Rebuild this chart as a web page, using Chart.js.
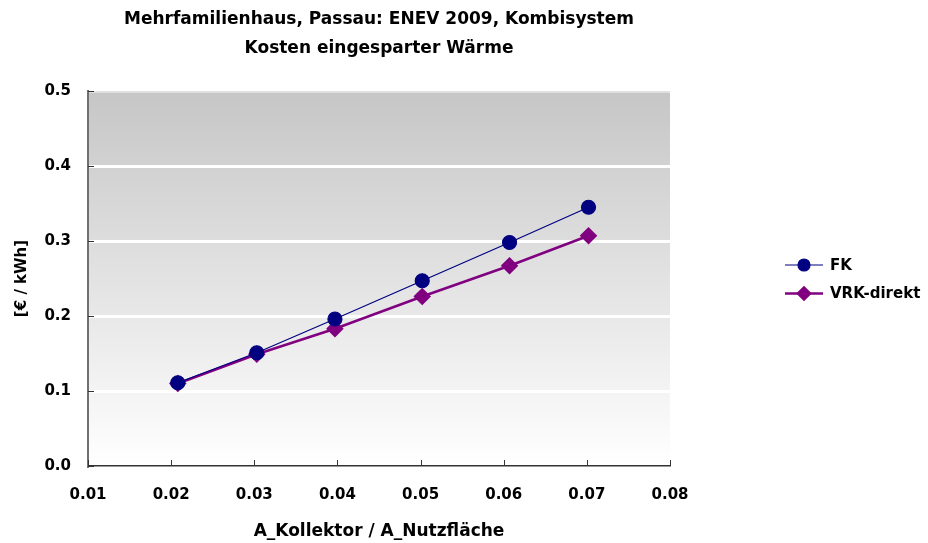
<!DOCTYPE html>
<html>
<head>
<meta charset="utf-8">
<script src="https://cdn.jsdelivr.net/npm/chart.js@4"></script>
<style>
  body { margin: 0; background: #fff; }
</style>
</head>
<body>
<canvas id="myChart" width="928" height="543"></canvas>
<script>
const titleLines = ["Mehrfamilienhaus, Passau: ENEV 2009, Kombisystem", "Kosten eingesparter Wärme"];
const xTitle = "A_Kollektor / A_Nutzfläche";
const yTitle = "[€ / kWh]";

const ratioValues = [0.0208, 0.0303, 0.0397, 0.0502, 0.0607, 0.0702];
const fkValues = [0.111, 0.151, 0.196, 0.247, 0.298, 0.345];
const vrkValues = [0.110, 0.149, 0.183, 0.226, 0.267, 0.307];

const xTicks = [0.01, 0.02, 0.03, 0.04, 0.05, 0.06, 0.07, 0.08];
const yTicks = [0.0, 0.1, 0.2, 0.3, 0.4, 0.5];

const FONT = "'DejaVu Sans', sans-serif";

function toPoints(xs, ys) {
    return xs.map((x, i) => ({x: x, y: ys[i]}));
}

// grey gradient behind the plot
const plotBackground = {
    id: 'plotBackground',
    beforeDraw(chart) {
        const {ctx, chartArea: a} = chart;
        const g = ctx.createLinearGradient(0, a.top, 0, a.bottom);
        g.addColorStop(0, '#c6c6c6');
        g.addColorStop(1, '#ffffff');
        ctx.save();
        ctx.fillStyle = g;
        ctx.fillRect(a.left, a.top, a.right - a.left, a.bottom - a.top);
        ctx.restore();
    }
};

// small tick marks pointing into the plot
const innerTicks = {
    id: 'innerTicks',
    afterDraw(chart) {
        const {ctx, chartArea: a, scales} = chart;
        ctx.save();
        ctx.strokeStyle = '#333';
        ctx.lineWidth = 1;
        scales.x.ticks.forEach(t => {
            const px = Math.round(scales.x.getPixelForValue(t.value)) + 0.5;
            ctx.beginPath();
            ctx.moveTo(px, a.bottom);
            ctx.lineTo(px, a.bottom - 6);
            ctx.stroke();
        });
        scales.y.ticks.forEach(t => {
            const py = Math.round(scales.y.getPixelForValue(t.value)) + 0.5;
            ctx.beginPath();
            ctx.moveTo(a.left, py);
            ctx.lineTo(a.left + 6, py);
            ctx.stroke();
        });
        ctx.restore();
    }
};

// legend at the right: line with marker, then label
const sideLegend = {
    id: 'sideLegend',
    afterDraw(chart) {
        const ctx = chart.ctx;
        ctx.save();
        chart.data.datasets.forEach((ds, i) => {
            const y = 265 + i * 28.5;
            ctx.strokeStyle = ds.borderColor;
            ctx.lineWidth = ds.borderWidth;
            ctx.beginPath();
            ctx.moveTo(785, y);
            ctx.lineTo(823, y);
            ctx.stroke();
            ctx.fillStyle = ds.pointBackgroundColor;
            ctx.strokeStyle = ds.pointBorderColor;
            Chart.helpers.drawPoint(ctx, {
                pointStyle: ds.pointStyle,
                radius: ds.pointRadius - 1,
                borderWidth: 1,
                rotation: 0
            }, 804, y);
            ctx.fillStyle = '#000';
            ctx.font = "bold 15px " + FONT;
            ctx.textBaseline = 'middle';
            ctx.fillText(ds.label, 830, y + 1);
        });
        ctx.restore();
    }
};

document.addEventListener('DOMContentLoaded', function () {
    Chart.defaults.font.family = FONT;
    Chart.defaults.color = '#000';

    new Chart("myChart", {
        type: "scatter",
        data: {
            datasets: [{
                label: "FK",
                data: toPoints(ratioValues, fkValues),
                showLine: true,
                borderColor: "#000080",
                backgroundColor: "#000080",
                pointBackgroundColor: "#000080",
                pointBorderColor: "#000080",
                borderWidth: 1.2,
                pointStyle: "circle",
                pointRadius: 7,
                pointHoverRadius: 7
            }, {
                label: "VRK-direkt",
                data: toPoints(ratioValues, vrkValues),
                showLine: true,
                borderColor: "#800080",
                backgroundColor: "#800080",
                pointBackgroundColor: "#800080",
                pointBorderColor: "#800080",
                borderWidth: 2.5,
                pointStyle: "rectRot",
                pointRadius: 7,
                pointHoverRadius: 7
            }]
        },
        options: {
            responsive: false,
            animation: false,
            layout: {padding: {left: 0, right: 258, top: 0, bottom: 0}},
            plugins: {
                legend: {display: false},
                tooltip: {enabled: false},
                title: {
                    display: true,
                    fullSize: false,
                    text: titleLines,
                    color: '#000',
                    font: {family: FONT, size: 17, weight: 'bold', lineHeight: 1.7},
                    padding: {top: 5.5, bottom: 27.7}
                }
            },
            scales: {
                x: {
                    type: 'linear',
                    min: 0.01,
                    max: 0.08,
                    afterBuildTicks: s => { s.ticks = xTicks.map(v => ({value: v})); },
                    afterFit: s => { s.height = 77; },
                    grid: {color: 'transparent', drawTicks: false},
                    border: {display: true, color: '#333', width: 1.5},
                    ticks: {
                        padding: 20,
                        font: {size: 15, weight: 'bold'},
                        callback: v => v.toFixed(2)
                    },
                    title: {
                        display: true,
                        text: xTitle,
                        font: {size: 17, weight: 'bold'},
                        padding: {top: 0, bottom: 1}
                    }
                },
                y: {
                    min: 0,
                    max: 0.5,
                    afterBuildTicks: s => { s.ticks = yTicks.map(v => ({value: v})); },
                    afterFit: s => { s.width = 88; },
                    grid: {
                        drawTicks: false,
                        lineWidth: 3,
                        color: c => {
                            if (c.tick.value === 0) return 'transparent';
                            if (c.tick.value === 0.5) return 'rgba(255,255,255,0.45)';
                            return '#ffffff';
                        }
                    },
                    border: {display: true, color: '#707070', width: 2},
                    ticks: {
                        padding: 17,
                        font: {size: 15, weight: 'bold'},
                        callback: v => v.toFixed(1)
                    },
                    title: {
                        display: true,
                        text: yTitle,
                        font: {size: 15, weight: 'bold'},
                        padding: {top: 13, bottom: 0}
                    }
                }
            }
        },
        plugins: [plotBackground, innerTicks, sideLegend]
    });
});
</script>
</body>
</html>
